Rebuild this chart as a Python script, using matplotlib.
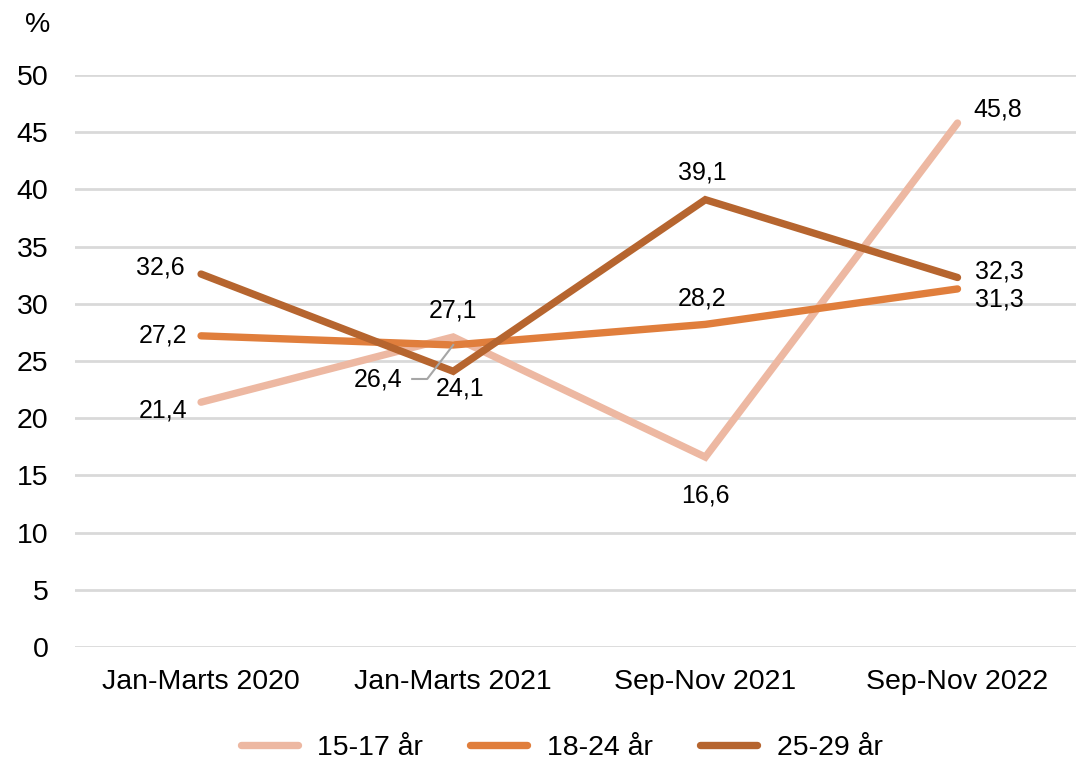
import numpy as np
import matplotlib.pyplot as plt

plt.rcParams['font.family'] = ['Liberation Sans', 'DejaVu Sans']

categories = ['Jan-Marts 2020', 'Jan-Marts 2021', 'Sep-Nov 2021', 'Sep-Nov 2022']
series_names = ['15-17 år', '18-24 år', '25-29 år']
v_15_17 = [21.4, 27.1, 16.6, 45.8]
v_18_24 = [27.2, 26.4, 28.2, 31.3]
v_25_29 = [32.6, 24.1, 39.1, 32.3]
colors = ['#EDB8A2', '#E07E3C', '#B6652F']

# label offsets in pixels (dx, dy), per series per point
offsets = [
    [(-38, -8), (0, 26), (0, -38), (40, 14)],
    [(-38, 0), (-75, -35), (-3, 26), (42, -11)],
    [(-41, 7), (7, -17), (-3, 27), (42, 6)],
]

fig = plt.figure(figsize=(10.76, 7.63), dpi=100)
ax = fig.add_axes([75 / 1076, (763 - 647) / 763, 1001 / 1076, (647 - 75) / 763])

x = np.arange(len(categories))
all_vals = [v_15_17, v_18_24, v_25_29]
for vals, name, c in zip(all_vals, series_names, colors):
    ax.plot(x, vals, color=c, lw=5.3, label=name, solid_capstyle='round', solid_joinstyle='miter')

ax.set_xlim(-0.5, 3.47)
ax.set_ylim(0, 50)

for vals, offs in zip(all_vals, offsets):
    for i, v in enumerate(vals):
        dx, dy = offs[i]
        txt = f'{v:.1f}'.replace('.', ',')
        ax.annotate(txt, xy=(i, v), xytext=(dx, dy), textcoords='offset pixels',
                    ha='center', va='center', fontsize=18)

# leader line for the crowded 26,4 label
px, py = ax.transData.transform((1, v_18_24[1]))
lead = np.array([[px - 41, py - 34], [px - 26, py - 34], [px, py]])
lead_fig = fig.transFigure.inverted().transform(lead)
fig.add_artist(plt.Line2D(lead_fig[:, 0], lead_fig[:, 1], color='#A6A6A6', lw=1.5, zorder=5))

ax.set_yticks(np.arange(0, 51, 5))
ax.set_xticks(x)
ax.set_xticklabels(categories)
ax.tick_params(axis='both', length=0, labelsize=20.5)
ax.tick_params(axis='y', pad=19)
ax.tick_params(axis='x', pad=16)
ax.grid(axis='y', color='#D9D9D9', lw=2)
ax.set_axisbelow(True)
for s in ax.spines.values():
    s.set_visible(False)

fig.text(38 / 1076, 1 - 25 / 763, '%', ha='center', va='center', fontsize=20.5)

fig.legend(loc='center', bbox_to_anchor=(0.522, 1 - 748 / 763), ncol=3, frameon=False,
           fontsize=20.5, handlelength=2.0, handletextpad=0.7, columnspacing=1.65)

fig.savefig('out.png', dpi=100)
